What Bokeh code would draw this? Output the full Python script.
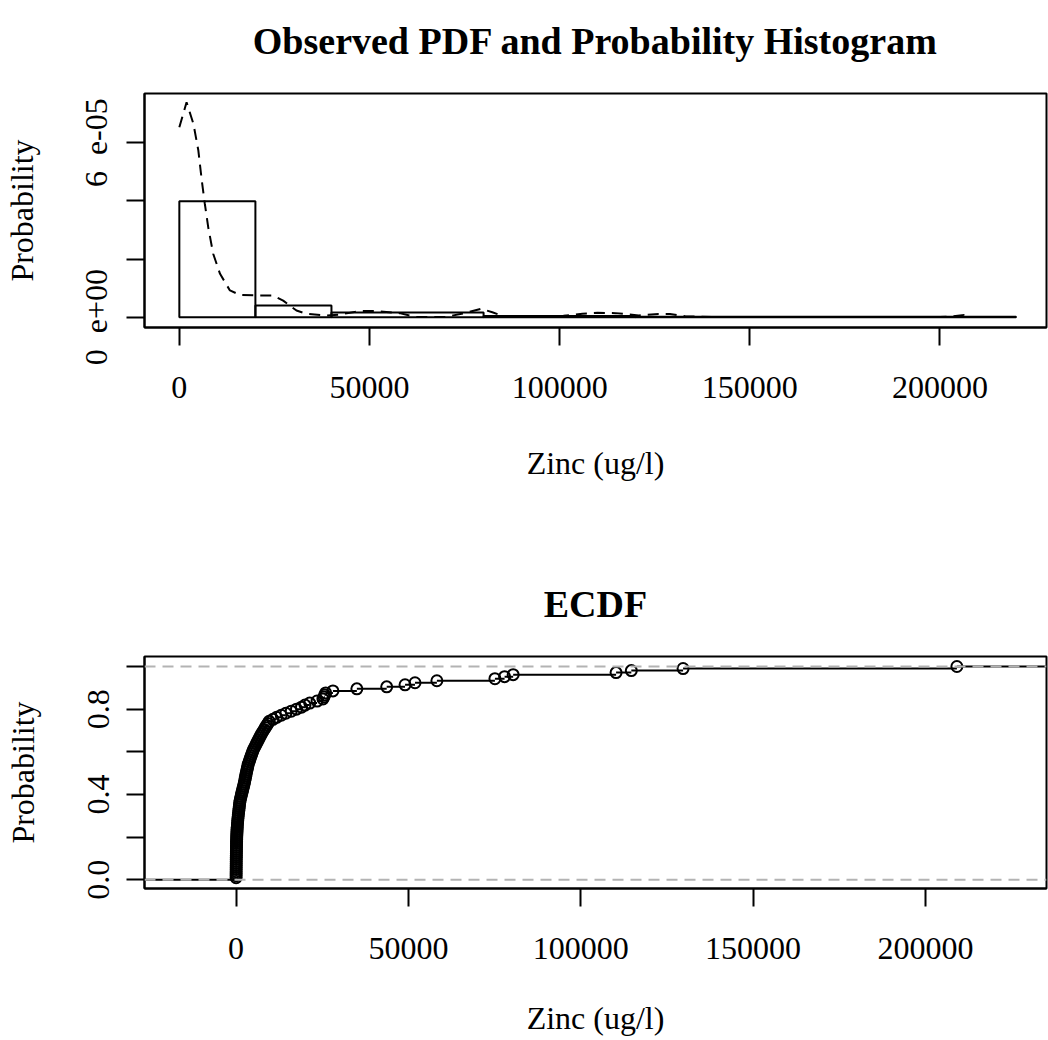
import numpy as np
from bokeh.plotting import figure
from bokeh.layouts import column
from bokeh.models import Range1d, FixedTicker, CustomJSTickFormatter, Span, LinearAxis
from bokeh.embed import file_html
from bokeh.resources import INLINE

# ---------------- data ----------------
hist_breaks = [0, 20000, 40000, 80000, 120000, 220000]
hist_density = [3.99e-05, 4.0e-06, 1.6e-06, 4.0e-07, 1.5e-07]

pdf_x = [0, 1900, 3700, 5000, 5900, 6700, 7600, 8900, 10700, 13300,
         15900, 20300, 24600, 27300, 30800, 33400, 38600, 42100, 47400, 51700,
         57900, 62200, 70100, 75300, 79300, 82300, 85800, 94600, 101000, 106000,
         110000, 114700, 120800, 126000, 129000, 133000, 140000, 200000, 203500, 206400,
         208000]
pdf_y = [6.53e-05, 7.39e-05, 6.65e-05, 5.73e-05, 4.70e-05, 3.90e-05, 3.09e-05, 2.18e-05, 1.49e-05, 9.2e-06,
         7.7e-06, 7.5e-06, 7.5e-06, 5.7e-06, 2.3e-06, 1.2e-06, 6e-07, 9e-07, 2.1e-06, 2.1e-06,
         1.4e-06, 1e-07, 1e-07, 1.5e-06, 2.9e-06, 1.7e-06, 1e-07, 5e-08, 5e-07, 1.2e-06,
         1.5e-06, 1.4e-06, 6e-07, 1.1e-06, 1.1e-06, 3e-07, 5e-08, 5e-08, 3e-07, 8e-07,
         6e-07]

zinc = [5, 10, 15, 20, 25, 30, 35, 40, 45, 50, 60, 70, 80, 90, 100, 110, 120, 130,
        150, 170, 190, 210, 240, 270, 300, 340, 380,
        430, 480, 530, 590, 650, 720, 790, 860, 930, 1000, 1070, 1160,
        1290, 1430, 1570, 1720, 1870, 2010, 2160, 2310,
        2430, 2550, 2670, 2790, 2910, 3040, 3170, 3300, 3420, 3550,
        3750, 3950, 4150, 4360, 4570, 4780, 5000,
        5300, 5600, 5900, 6200, 6500, 6800, 7100, 7420,
        7780, 8150, 8510, 8880, 9250, 9620,
        10700, 11760, 13100, 14440, 16000, 17530, 18980, 20000, 21370,
        23500, 25200, 25500, 25700, 26000, 28100, 35040,
        43700, 49020, 51910, 58260, 75100, 77900, 80390, 110250, 114670, 129690, 209130]

x_ticks = [0, 50000, 100000, 150000, 200000]
pdf_y_ticks = [0, 2e-05, 4e-05, 6e-05]
pdf_y_labels = ["0\u2002e+00", "", "", "6\u2002e-05"]
ecdf_y_ticks = [0, 0.2, 0.4, 0.6, 0.8, 1.0]
ecdf_y_labels = ["0.0", "", "0.4", "", "0.8", ""]

FONT = "Liberation Serif"
W = 1048


def label_formatter(tv, tl):
    tol = (tv[1] - tv[0]) * 1e-3
    return CustomJSTickFormatter(args=dict(tvals=tv, tlabs=tl, ttol=tol), code="""
        for (let i = 0; i < tvals.length; i++) {
            if (Math.abs(tick - tvals[i]) < ttol) { return tlabs[i]; }
        }
        return "";
    """)


def add_title(p, text):
    # title drawn as the label of a tick-less axis above the frame, for exact placement
    t = LinearAxis(ticker=FixedTicker(ticks=[], minor_ticks=[]),
                   axis_label=text, axis_line_color=None,
                   major_tick_out=0, major_tick_in=0, minor_tick_out=0, minor_tick_in=0,
                   major_label_standoff=0, axis_label_standoff=32)
    t.axis_label_text_font = FONT
    t.axis_label_text_font_style = "bold"
    t.axis_label_text_font_size = "38px"
    t.axis_label_text_color = "black"
    p.add_layout(t, "above")


def style(p, title, yt, ylab, y_tick_sd, y_lab_sd, x_lab_sd):
    p.outline_line_color = "black"
    p.outline_line_width = 2
    p.outline_line_alpha = 1.0
    p.xgrid.visible = False
    p.ygrid.visible = False
    p.background_fill_color = "white"
    p.border_fill_color = "white"
    xa = p.below[0]
    ya = p.left[0]
    for ax in (xa, ya):
        ax.axis_line_width = 2
        ax.axis_line_color = "black"
        ax.major_tick_line_width = 2
        ax.major_tick_line_color = "black"
        ax.major_tick_out = 18
        ax.major_tick_in = 0
        ax.minor_tick_out = 0
        ax.minor_tick_in = 0
        ax.major_label_text_font = FONT
        ax.major_label_text_font_size = "32px"
        ax.major_label_text_color = "black"
        ax.axis_label_text_font = FONT
        ax.axis_label_text_font_size = "32px"
        ax.axis_label_text_font_style = "normal"
        ax.axis_label_text_color = "black"
    xa.ticker = FixedTicker(ticks=x_ticks, minor_ticks=[])
    xa.formatter = CustomJSTickFormatter(code="return tick.toFixed(0);")
    xa.axis_label = "Zinc (ug/l)"
    xa.major_label_standoff = 31
    xa.axis_label_standoff = x_lab_sd
    ya.ticker = FixedTicker(ticks=yt, minor_ticks=[])
    ya.formatter = label_formatter(yt, ylab)
    ya.major_label_orientation = "vertical"
    ya.axis_label = "Probability"
    ya.major_label_standoff = y_tick_sd
    ya.axis_label_standoff = y_lab_sd
    add_title(p, title)


LEFT = 140
RIGHT = 2
FRAME_W = W - LEFT - RIGHT

# ---------------- top: PDF + histogram ----------------
x1_start = -9160
x1_end = x1_start + FRAME_W / 0.00382
p1 = figure(width=W, height=520, output_backend="svg", toolbar_location=None,
            x_range=Range1d(x1_start, x1_end), y_range=Range1d(-3.54e-06, 7.69e-05))
p1.min_border_left = LEFT
p1.min_border_right = RIGHT
p1.min_border_top = 93
p1.min_border_bottom = 193
style(p1, "Observed PDF and Probability Histogram", pdf_y_ticks, pdf_y_labels, 12, 36, 44)

p1.quad(left=hist_breaks[:-1], right=hist_breaks[1:], bottom=0, top=hist_density,
        fill_color=None, line_color="black", line_width=2)
p1.line(pdf_x, pdf_y, line_color="black", line_width=2, line_dash="11 7")

# ---------------- bottom: ECDF ----------------
x2_start = -26570
x2_end = x2_start + FRAME_W / 0.003462
p2 = figure(width=W, height=520, output_backend="svg", toolbar_location=None,
            x_range=Range1d(x2_start, x2_end), y_range=Range1d(-0.041, 1.047))
p2.min_border_left = LEFT
p2.min_border_right = RIGHT
p2.min_border_top = 136
p2.min_border_bottom = 152
style(p2, "ECDF", ecdf_y_ticks, ecdf_y_labels, 17, 45, 38)

xs = sorted(zinc)
n = len(xs)
F = [(i + 1) / n for i in range(n)]
seg_x0 = [x2_start] + xs
seg_x1 = xs + [x2_end]
seg_y = [0.0] + F
p2.segment(x0=seg_x0, y0=seg_y, x1=seg_x1, y1=seg_y, line_color="black", line_width=2)
p2.scatter(xs, F, marker="circle", size=11, fill_color=None, line_color="black", line_width=2)
for lv in (0, 1):
    p2.add_layout(Span(location=lv, dimension="width", line_color="#B3B3B3",
                       line_width=2, line_dash="11 7"))

layout = column(p1, p2, spacing=0)
open("out.html", "w").write(file_html(layout, INLINE))
